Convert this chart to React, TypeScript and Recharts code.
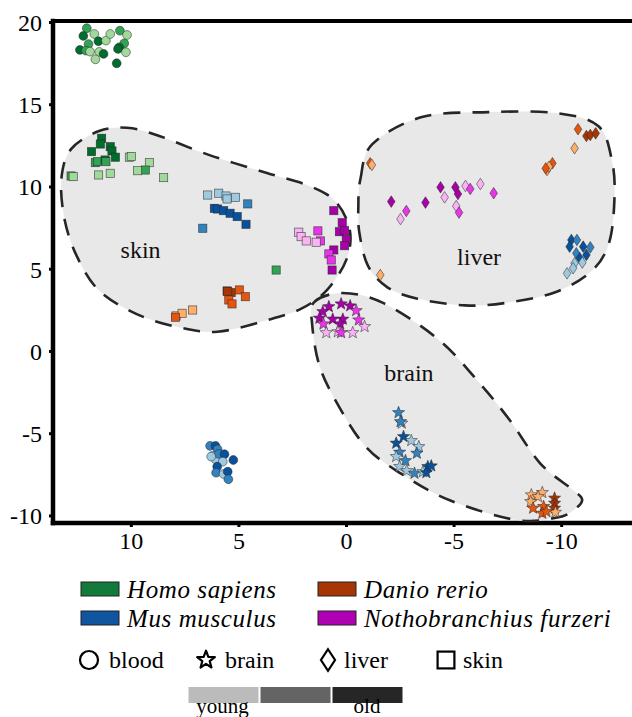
import { ScatterChart, Scatter, XAxis, YAxis, ReferenceLine, ReferenceDot } from 'recharts'

const FONT = 'Liberation Serif, DejaVu Serif, Times New Roman, serif'

// [x, y, age]  age: 0 young, 1 middle, 2 old
const homoBlood = [
  [12.07, 19.65, 1], [12.23, 19.18, 2], [11.72, 19.3, 0], [11.99, 18.69, 1], [11.53, 18.86, 2],
  [11.18, 18.9, 0], [10.98, 19.3, 0], [10.53, 19.5, 1], [10.2, 19.24, 0], [10.33, 18.73, 1],
  [10.56, 18.49, 2], [10.62, 18.39, 2], [10.25, 18.19, 0], [12.39, 18.33, 2], [12.11, 18.29, 1],
  [11.92, 18.23, 0], [11.49, 18.21, 0], [11.29, 18.09, 2], [11.67, 17.76, 0], [10.68, 17.52, 2],
]
const homoSkin = [
  [11.38, 12.96, 2], [11.44, 12.61, 2], [10.98, 12.45, 2], [10.9, 12.19, 2], [11.85, 12.15, 2],
  [10.74, 11.81, 2], [11.67, 11.48, 1], [11.57, 11.54, 1], [11.22, 11.64, 2], [11.18, 11.54, 1],
  [10.09, 11.81, 0], [10.0, 11.85, 0], [9.16, 11.48, 0], [9.35, 11.03, 1], [9.71, 10.99, 0],
  [12.8, 10.67, 1], [12.7, 10.63, 0], [11.52, 10.73, 0], [10.98, 10.83, 0], [8.5, 10.57, 0],
  [3.27, 4.95, 1],
]
const mouseBlood = [
  [6.34, -5.74, 1], [6.09, -5.74, 2], [5.99, -5.95, 1], [6.22, -6.35, 0], [6.09, -6.55, 0],
  [5.94, -6.23, 1], [5.67, -6.25, 2], [5.75, -6.7, 0], [5.26, -6.6, 2], [6.01, -7.0, 2],
  [6.06, -7.37, 1], [5.71, -7.45, 0], [5.52, -7.31, 2], [5.49, -7.77, 1], [6.29, -6.39, 0],
]
const mouseSkin = [
  [6.45, 9.51, 0], [5.94, 9.62, 0], [5.6, 9.45, 0], [5.55, 9.27, 0], [5.16, 9.37, 0],
  [4.59, 8.97, 1], [6.14, 8.7, 2], [5.99, 8.66, 2], [5.71, 8.56, 2], [5.41, 8.4, 2],
  [5.08, 8.2, 2], [4.67, 7.73, 2], [6.68, 7.49, 1],
]
const mouseBrain = [
  [-2.42, -3.72, 1], [-2.57, -4.36, 0], [-2.51, -4.27, 1], [-2.65, -5.18, 2], [-2.31, -5.58, 2],
  [-3.01, -5.42, 0], [-3.36, -5.79, 0], [-3.27, -6.19, 1], [-2.47, -6.13, 1], [-2.31, -6.39, 0],
  [-2.74, -6.64, 1], [-2.47, -7.0, 0], [-2.8, -7.25, 0], [-3.16, -7.41, 1], [-3.55, -7.31, 0],
  [-3.78, -7.0, 2], [-3.94, -6.96, 2], [-3.71, -7.37, 2],
]
const mouseLiver = [
  [-10.45, 6.78, 2], [-10.71, 6.78, 1], [-11.0, 6.37, 2], [-11.33, 6.33, 1], [-10.37, 6.37, 2],
  [-10.68, 5.97, 1], [-11.15, 5.87, 2], [-10.84, 5.67, 2], [-10.6, 5.36, 0], [-10.96, 5.4, 0],
  [-10.53, 5.06, 0], [-10.25, 4.75, 0],
]
const danioSkin = [
  [5.55, 3.68, 2], [5.36, 3.58, 2], [5.52, 3.64, 2], [4.98, 3.74, 1], [4.7, 3.33, 1],
  [5.47, 3.13, 1], [5.32, 2.89, 1], [7.92, 2.16, 0], [7.64, 2.32, 0], [7.15, 2.52, 0],
  [7.95, 2.08, 1],
]
const danioBrain = [
  [-8.59, -8.72, 0], [-9.1, -8.58, 0], [-8.9, -8.83, 0], [-8.56, -9.13, 0], [-8.67, -9.53, 1],
  [-9.16, -9.43, 1], [-9.1, -9.84, 1], [-9.67, -8.92, 2], [-9.67, -9.23, 2], [-9.67, -9.53, 2],
  [-9.71, -9.78, 0], [-9.29, -9.74, 1],
]
const danioLiver = [
  [-1.1, 11.44, 1], [-1.18, 11.34, 0], [-1.57, 4.65, 0], [-10.76, 13.51, 1], [-11.15, 13.1, 2],
  [-11.33, 13.16, 2], [-11.58, 13.26, 2], [-10.6, 12.35, 0], [-9.57, 11.44, 1], [-9.32, 11.03, 0],
  [-9.41, 11.23, 0], [-9.26, 11.13, 1],
]
const nothoSkin = [
  [0.59, 8.56, 2], [0.2, 7.83, 2], [0.33, 7.28, 2], [0.09, 7.34, 2], [0.01, 6.82, 2],
  [0.09, 6.43, 2], [0.59, 6.17, 2], [0.67, 4.95, 2], [1.33, 7.33, 1], [1.21, 6.72, 1],
  [0.82, 5.93, 1], [0.71, 5.56, 1], [2.22, 7.25, 0], [2.11, 6.98, 0], [1.87, 6.72, 0],
  [1.41, 6.64, 0],
]
const nothoBrain = [
  [0.82, 2.72, 2], [1.1, 2.42, 2], [0.25, 2.89, 2], [-0.17, 2.77, 2], [-0.45, 2.48, 1],
  [1.26, 2.02, 2], [0.64, 1.96, 2], [0.17, 1.96, 2], [-0.57, 1.91, 1], [1.07, 1.67, 1],
  [0.29, 1.67, 2], [-0.84, 1.51, 0], [0.94, 1.14, 0], [0.4, 1.2, 0], [-0.29, 1.14, 0],
  [0.25, 1.14, 1],
]
const nothoLiver = [
  [-2.08, 9.11, 2], [-2.78, 8.54, 1], [-2.51, 8.05, 0], [-3.67, 9.05, 2], [-4.37, 9.98, 2],
  [-4.56, 9.37, 0], [-5.06, 9.98, 2], [-5.18, 9.57, 2], [-5.1, 8.84, 0], [-5.23, 8.44, 1],
  [-5.53, 10.06, 0], [-5.75, 9.88, 1], [-6.22, 10.18, 0], [-6.84, 9.62, 1],
]

// outlines of the tissue regions, [x, y]
const skinRegion = [
  [13.25, 10.5], [12.8, 12.3], [11.5, 13.4], [10.2, 13.6], [8.8, 13.15], [6.4, 11.95],
  [3.7, 10.85], [1.7, 10.05], [0.5, 9.1], [-0.15, 7.4], [0.0, 5.6], [0.9, 3.75], [2.1, 2.6],
  [3.7, 1.9], [6.0, 1.2], [7.9, 1.5], [9.8, 2.3], [11.5, 3.7], [12.5, 5.7], [13.1, 8.0],
]
const liverRegion = [
  [-0.65, 10.5], [-1.2, 12.6], [-3.5, 14.25], [-6.6, 14.55], [-9.7, 14.5], [-11.7, 13.7],
  [-12.35, 11.5], [-12.45, 9.2], [-12.2, 6.6], [-11.4, 4.9], [-9.7, 3.6], [-7.4, 2.95],
  [-5.5, 2.8], [-3.3, 3.2], [-1.9, 3.9], [-1.0, 5.2], [-0.6, 7.2], [-0.55, 8.8],
]
const brainRegion = [
  [1.5, 3.0], [0.2, 3.55], [-1.7, 2.95], [-4.3, 0.7], [-6.2, -1.95], [-7.6, -4.2], [-9.0, -6.8],
  [-10.5, -8.4], [-10.95, -9.0], [-10.6, -9.6], [-9.8, -10.1], [-7.9, -10.25], [-4.8, -9.05],
  [-2.5, -7.4], [-0.9, -5.8], [0.35, -3.35], [1.25, -0.9], [1.6, 1.7],
]

const xTicks = [10, 5, 0, -5, -10]
const yTicks = [-10, -5, 0, 5, 10, 15, 20]
const species = ['Homo sapiens', 'Mus musculus', 'Danio rerio', 'Nothobranchius furzeri']
const tissues = ['blood', 'brain', 'liver', 'skin']
const ageLabels = ['young', 'old']

const palettes: Record<string, string[]> = {
  homo: ['#a1d99b', '#31a354', '#006d2c'],
  mouse: ['#9ecae1', '#3182bd', '#08519c'],
  danio: ['#fdae6b', '#e6550d', '#a63603'],
  notho: ['#f9b4f4', '#e935e9', '#a800a8'],
}
const legendColors = ['#127a3a', '#0f55a0', '#a63603', '#b000b4']
const ageGreys = ['#bbbbbb', '#646464', '#262626']

const toPoints = (arr: number[][]) => arr.map(([x, y, a]) => ({ x, y, a }))

function starPoints(cx: number, cy: number, ro: number, ri: number) {
  const pts: string[] = []
  for (let i = 0; i < 10; i++) {
    const r = i % 2 === 0 ? ro : ri
    const ang = -Math.PI / 2 + (i * Math.PI) / 5
    pts.push(`${cx + r * Math.cos(ang)},${cy + r * Math.sin(ang)}`)
  }
  return pts.join(' ')
}

function Marker({ kind, cx, cy, fill, stroke, sw, scale = 1 }: any) {
  const common = { fill, stroke, strokeWidth: sw }
  if (kind === 'blood') return <circle cx={cx} cy={cy} r={4.4 * scale} {...common} />
  if (kind === 'skin') {
    const h = 4.1 * scale
    return <rect x={cx - h} y={cy - h} width={2 * h} height={2 * h} {...common} />
  }
  if (kind === 'liver') {
    const w = 3.8 * scale
    const h = 5.8 * scale
    return <polygon points={`${cx},${cy - h} ${cx + w},${cy} ${cx},${cy + h} ${cx - w},${cy}`} {...common} />
  }
  return <polygon points={starPoints(cx, cy, 6.4 * scale, 2.7 * scale)} {...common} strokeLinejoin="round" />
}

const pointShape = (kind: string, pal: string[]) => (props: any) => {
  const { cx, cy, payload } = props
  if (cx == null || cy == null) return <g />
  return <Marker kind={kind} cx={cx} cy={cy} fill={pal[payload.a]} stroke="rgba(40,40,40,0.75)" sw={0.7} />
}

function smoothClosed(p: { x: number; y: number }[]) {
  const n = p.length
  let d = `M${p[0].x},${p[0].y}`
  for (let i = 0; i < n; i++) {
    const p0 = p[(i - 1 + n) % n]
    const p1 = p[i]
    const p2 = p[(i + 1) % n]
    const p3 = p[(i + 2) % n]
    const c1x = p1.x + (p2.x - p0.x) / 6
    const c1y = p1.y + (p2.y - p0.y) / 6
    const c2x = p2.x - (p3.x - p1.x) / 6
    const c2y = p2.y - (p3.y - p1.y) / 6
    d += ` C${c1x},${c1y} ${c2x},${c2y} ${p2.x},${p2.y}`
  }
  return d + 'Z'
}

const regionLine = (props: any) => (
  <path
    d={smoothClosed(props.points)}
    fill="#e8e8e8"
    stroke="#262626"
    strokeWidth={2.6}
    strokeDasharray="17 12"
  />
)

const series = [
  { data: homoSkin, kind: 'skin', pal: palettes.homo },
  { data: mouseSkin, kind: 'skin', pal: palettes.mouse },
  { data: danioSkin, kind: 'skin', pal: palettes.danio },
  { data: nothoSkin, kind: 'skin', pal: palettes.notho },
  { data: danioLiver, kind: 'liver', pal: palettes.danio },
  { data: nothoLiver, kind: 'liver', pal: palettes.notho },
  { data: mouseLiver, kind: 'liver', pal: palettes.mouse },
  { data: nothoBrain, kind: 'brain', pal: palettes.notho },
  { data: mouseBrain, kind: 'brain', pal: palettes.mouse },
  { data: danioBrain, kind: 'brain', pal: palettes.danio },
  { data: homoBlood, kind: 'blood', pal: palettes.homo },
  { data: mouseBlood, kind: 'blood', pal: palettes.mouse },
]

const tickStyle = { fill: '#000', fontSize: 24, fontFamily: FONT, style: { fontFamily: FONT } }
const axisLineStyle = { stroke: '#000', strokeWidth: 4.5, strokeLinecap: 'square' as const }
const regionLabel = (value: string) => ({
  value,
  position: 'center' as const,
  fontSize: 24,
  fontFamily: FONT,
  style: { fontFamily: FONT },
  fill: '#111',
})

function BottomLegend() {
  const rows = [
    { x: 81, y: 22 },
    { x: 81, y: 51 },
    { x: 318, y: 22 },
    { x: 318, y: 51 },
  ]
  const tissueX = [89, 206, 328, 446]
  const textX = [109, 225, 344, 463]
  const textStyle = { fontFamily: FONT }
  return (
    <svg width={632} height={157} style={{ position: 'absolute', left: 0, top: 560 }}>
      {species.map((s, i) => (
        <g key={s}>
          <rect x={rows[i].x} y={rows[i].y} width={38} height={14} fill={legendColors[i]} stroke="#222" strokeWidth={1} />
          <text
            x={rows[i].x + 46}
            y={rows[i].y + 15.5}
            fontSize={25}
            fontStyle="italic"
            letterSpacing={0.6}
            fill="#000"
            style={textStyle}
          >
            {s}
          </text>
        </g>
      ))}
      {tissues.map((t, i) => (
        <g key={t}>
          <Marker kind={t} cx={tissueX[i]} cy={100} fill="none" stroke="#000" sw={2.2} scale={t === 'blood' ? 2.05 : t === 'skin' ? 2.05 : t === 'liver' ? 1.85 : 1.45} />
          <text x={textX[i]} y={108} fontSize={24} fill="#000" style={textStyle}>
            {t}
          </text>
        </g>
      ))}
      {ageGreys.map((c, i) => (
        <rect key={c} x={188.5 + i * 72} y={127} width={70} height={16} fill={c} />
      ))}
      <text x={222.5} y={153} fontSize={21} textAnchor="middle" fill="#000" style={textStyle}>
        {ageLabels[0]}
      </text>
      <text x={367} y={153} fontSize={21} textAnchor="middle" fill="#000" style={textStyle}>
        {ageLabels[1]}
      </text>
    </svg>
  )
}

export default function App() {
  return (
    <div
      style={{
        position: 'absolute',
        left: 0,
        top: 0,
        width: 632,
        height: 717,
        overflow: 'hidden',
        background: '#fff',
        fontFamily: FONT,
      }}
    >
      <ScatterChart width={700} height={560} margin={{ top: 21, right: 60, bottom: 0, left: 0 }} style={{ fontFamily: FONT }}>
        <XAxis
          type="number"
          dataKey="x"
          domain={[-13.64, 13.64]}
          reversed
          allowDataOverflow
          ticks={xTicks}
          height={37}
          axisLine={axisLineStyle}
          tickLine={{ stroke: '#000', strokeWidth: 3 }}
          tickSize={4}
          tickMargin={5}
          tick={tickStyle}
        />
        <YAxis
          type="number"
          dataKey="y"
          domain={[-10.43, 20.09]}
          allowDataOverflow
          ticks={yTicks}
          width={53}
          axisLine={axisLineStyle}
          tickLine={{ stroke: '#000', strokeWidth: 3 }}
          tickSize={4}
          tickMargin={7}
          tick={tickStyle}
        />
        <ReferenceLine y={20.09} stroke="#000" strokeWidth={4} />
        {[skinRegion, liverRegion, brainRegion].map((r, i) => (
          <Scatter
            key={'region' + i}
            data={r.map(([x, y]) => ({ x, y }))}
            line={regionLine}
            lineType="joint"
            shape={() => <g />}
            legendType="none"
            isAnimationActive={false}
          />
        ))}
        {series.map((s, i) => (
          <Scatter
            key={'s' + i}
            data={toPoints(s.data)}
            shape={pointShape(s.kind, s.pal)}
            isAnimationActive={false}
          />
        ))}
        <ReferenceDot x={9.57} y={6.17} r={0} label={regionLabel('skin')} />
        <ReferenceDot x={-6.16} y={5.8} r={0} label={regionLabel('liver')} />
        <ReferenceDot x={-2.9} y={-1.25} r={0} label={regionLabel('brain')} />
      </ScatterChart>
      <BottomLegend />
    </div>
  )
}
